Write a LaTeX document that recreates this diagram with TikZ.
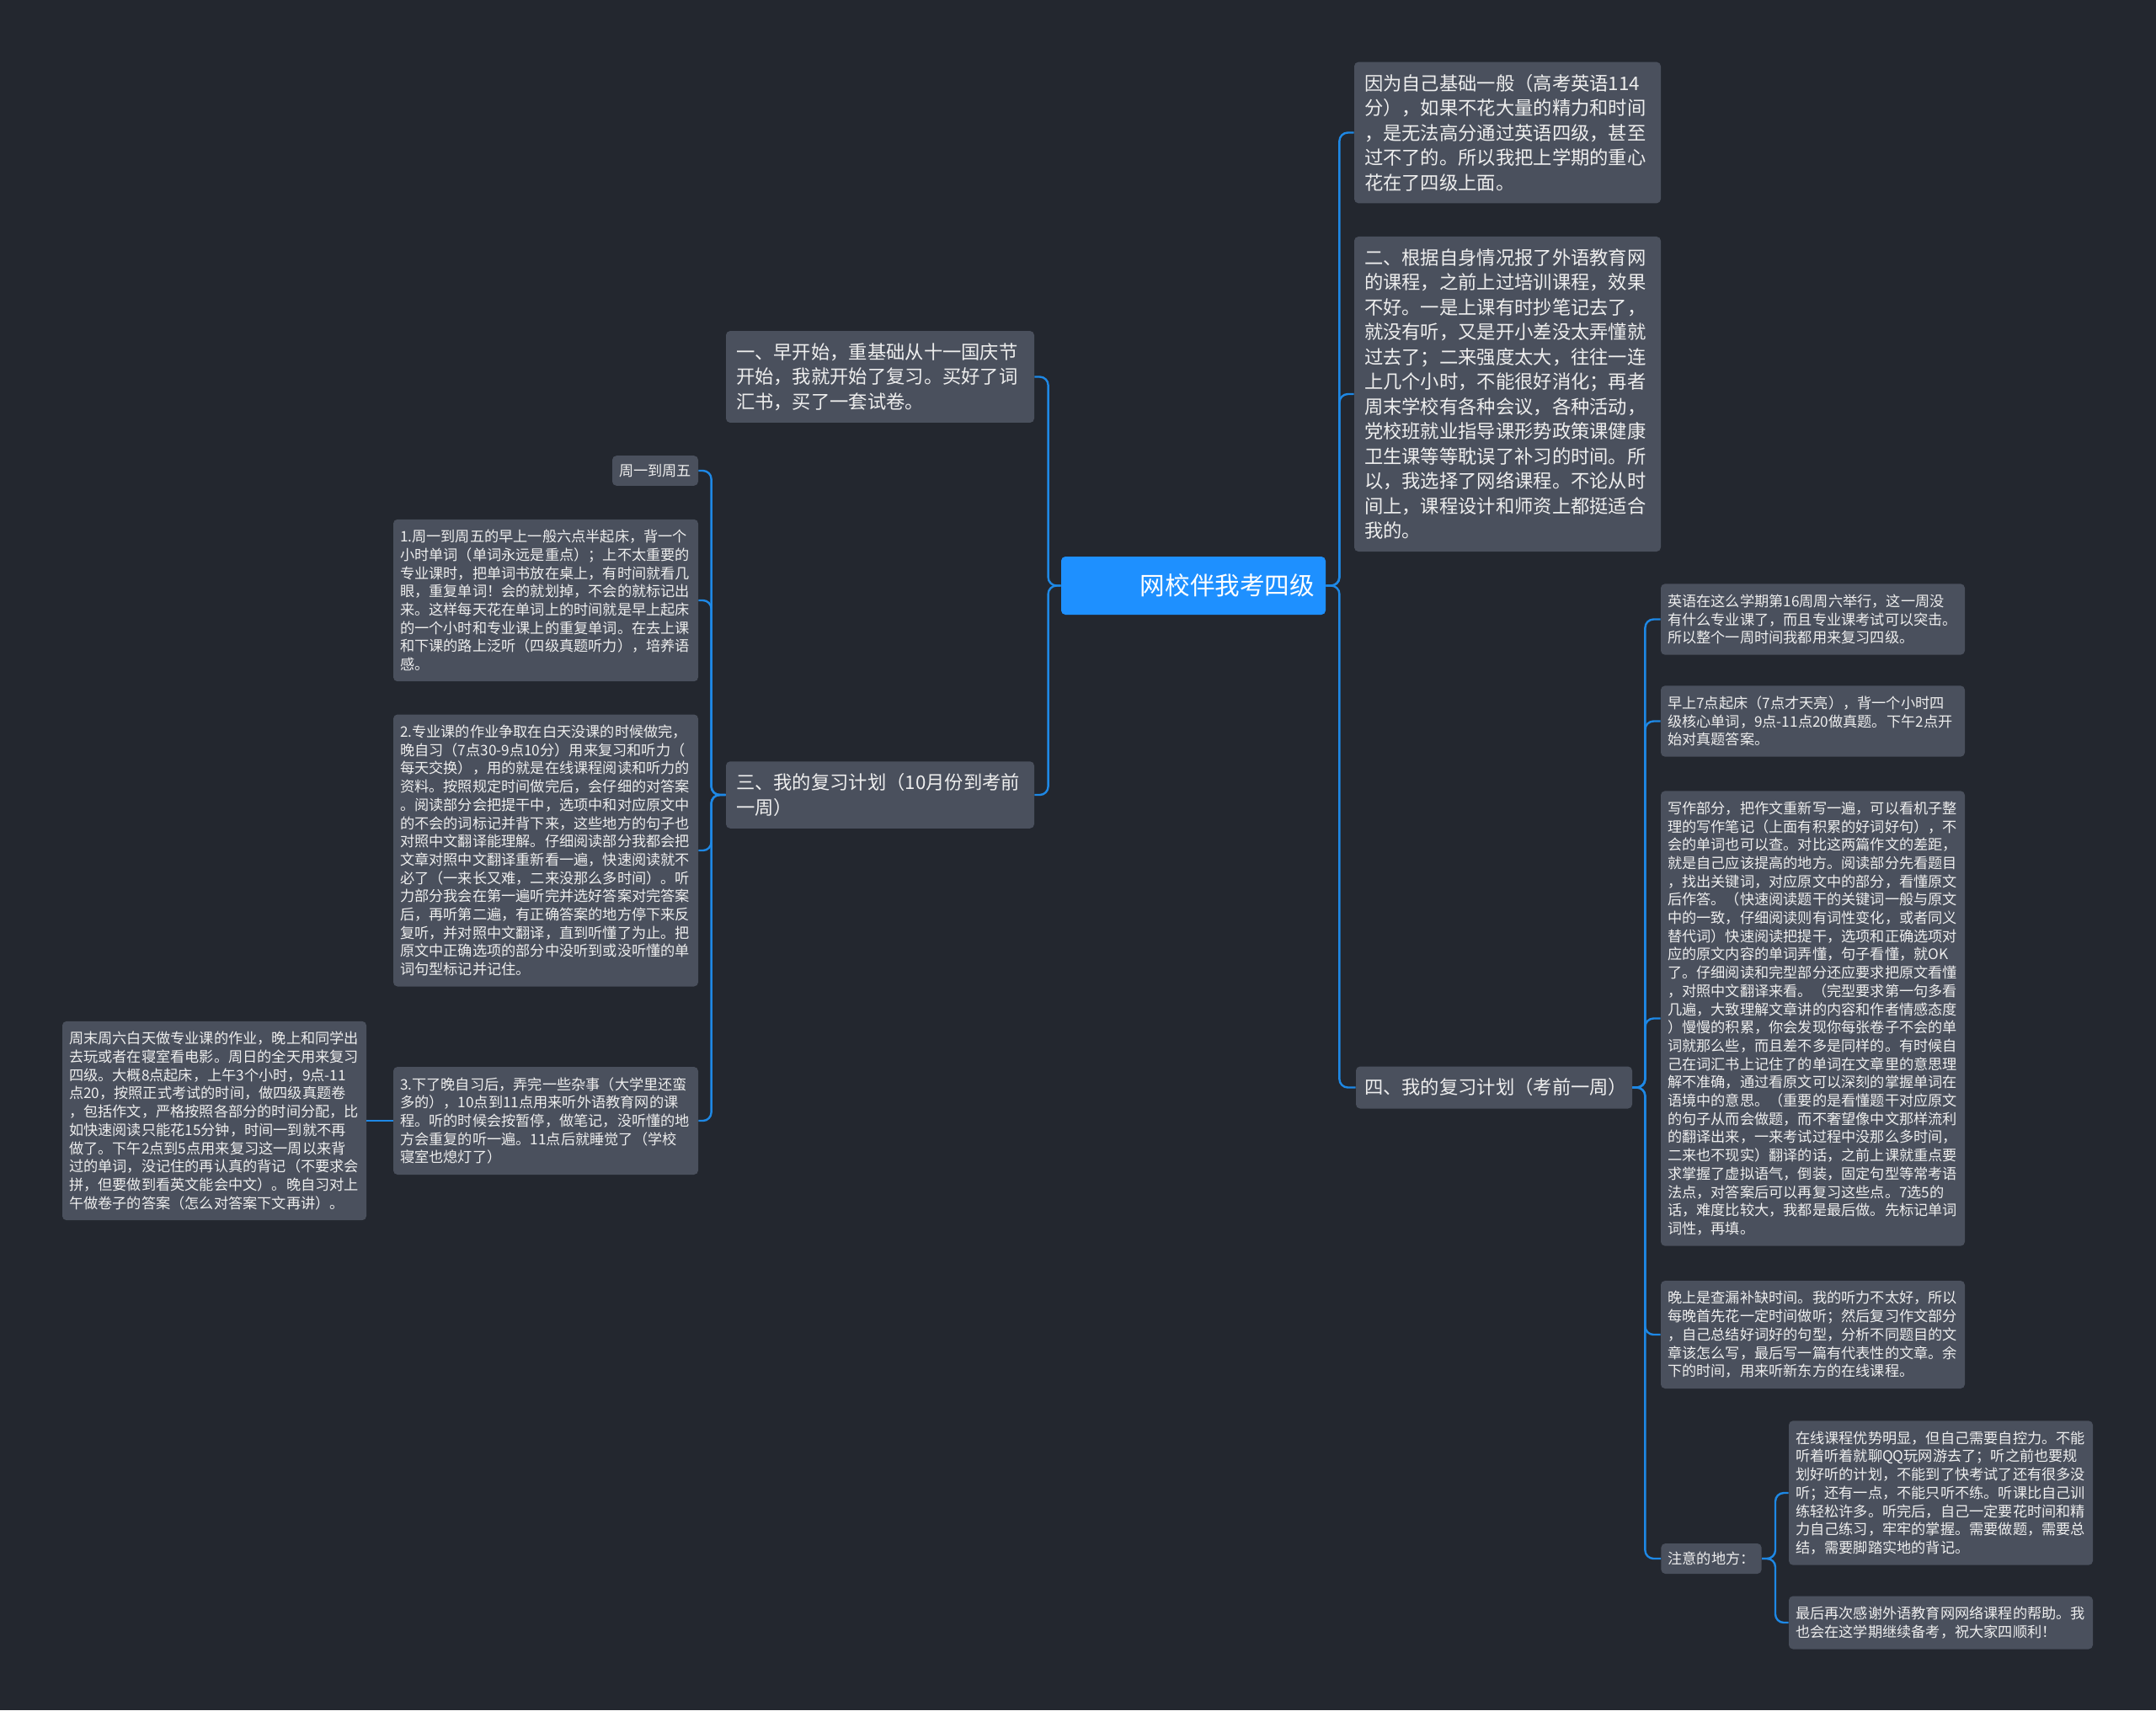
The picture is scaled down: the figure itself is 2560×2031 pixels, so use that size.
\documentclass[tikz,border=0pt]{standalone}
\usepackage{fontspec}
\setmainfont{Noto Sans CJK SC}
\usepackage{xcolor}
\usepackage{tikz}
\usetikzlibrary{calc}

\definecolor{bgcol}{HTML}{23272F}
\definecolor{boxcol}{HTML}{4A505D}
\definecolor{linecol}{HTML}{1E88E5}
\definecolor{rootcol}{HTML}{1E90FF}
\definecolor{txtcol}{HTML}{EEEEEE}

\begin{document}
\begin{tikzpicture}[x=0.5pt,y=-0.5pt,
  box/.style={fill=boxcol,rounded corners=2.5pt,text=txtcol,align=left},
  mainbox/.style={box,font=\fontsize{11.15}{14.75}\selectfont,inner xsep=6pt,inner ysep=7.2pt,text width=#1},
  leafbox/.style={box,font=\fontsize{8.6}{10.85}\selectfont,inner xsep=4pt,inner ysep=6.2pt,text width=#1},
  tagbox/.style={box,font=\fontsize{8.6}{10.85}\selectfont,inner xsep=4pt,inner ysep=5pt},
  rootbox/.style={fill=rootcol,rounded corners=2.5pt,text=white,font=\fontsize{14.8}{17}\selectfont,
    minimum height=34.5pt,inner xsep=6.5pt,text width=144pt,align=right},
  link/.style={draw=linecol,line width=1.2pt,rounded corners=5pt}]

\useasboundingbox (0,0) rectangle (2560,2031);
\fill[bgcol] (0,0) rectangle (2560,2031);

% 中心
\node[rootbox] (root) at (1417,695.5) {网校伴我考四级};

% 右側
\node[mainbox=170pt] (basis) at (1790,157.5) {因为自己基础一般（高考英语114\\
分），如果不花大量的精力和时间\\
，是无法高分通过英语四级，甚至\\
过不了的。所以我把上学期的重心\\
花在了四级上面。};
\node[mainbox=170pt] (course) at (1790,468) {二、根据自身情况报了外语教育网\\
的课程，之前上过培训课程，效果\\
不好。一是上课有时抄笔记去了，\\
就没有听，又是开小差没太弄懂就\\
过去了；二来强度太大，往往一连\\
上几个小时，不能很好消化；再者\\
周末学校有各种会议，各种活动，\\
党校班就业指导课形势政策课健康\\
卫生课等等耽误了补习的时间。所\\
以，我选择了网络课程。不论从时\\
间上，课程设计和师资上都挺适合\\
我的。};
\node[mainbox=154pt,inner xsep=5pt] (lastweek) at (1774,1291.5) {四、我的复习计划（考前一周）};

\node[leafbox=172.5pt] (week) at (2152.5,735.5) {英语在这么学期第16周周六举行，这一周没\\
有什么专业课了，而且专业课考试可以突击。\\
所以整个一周时间我都用来复习四级。};
\node[leafbox=172.5pt] (getup) at (2152.5,856.5) {早上7点起床（7点才天亮），背一个小时四\\
级核心单词，9点-11点20做真题。下午2点开\\
始对真题答案。};
\node[leafbox=172.5pt] (writing) at (2152.5,1209.5) {写作部分，把作文重新写一遍，可以看机子整\\
理的写作笔记（上面有积累的好词好句），不\\
会的单词也可以查。对比这两篇作文的差距，\\
就是自己应该提高的地方。阅读部分先看题目\\
，找出关键词，对应原文中的部分，看懂原文\\
后作答。（快速阅读题干的关键词一般与原文\\
中的一致，仔细阅读则有词性变化，或者同义\\
替代词）快速阅读把提干，选项和正确选项对\\
应的原文内容的单词弄懂，句子看懂，就OK\\
了。仔细阅读和完型部分还应要求把原文看懂\\
，对照中文翻译来看。（完型要求第一句多看\\
几遍，大致理解文章讲的内容和作者情感态度\\
）慢慢的积累，你会发现你每张卷子不会的单\\
词就那么些，而且差不多是同样的。有时候自\\
己在词汇书上记住了的单词在文章里的意思理\\
解不准确，通过看原文可以深刻的掌握单词在\\
语境中的意思。（重要的是看懂题干对应原文\\
的句子从而会做题，而不奢望像中文那样流利\\
的翻译出来，一来考试过程中没那么多时间，\\
二来也不现实）翻译的话，之前上课就重点要\\
求掌握了虚拟语气，倒装，固定句型等常考语\\
法点，对答案后可以再复习这些点。7选5的\\
话，难度比较大，我都是最后做。先标记单词\\
词性，再填。};
\node[leafbox=172.5pt] (evening) at (2152.5,1585) {晚上是查漏补缺时间。我的听力不太好，所以\\
每晚首先花一定时间做听；然后复习作文部分\\
，自己总结好词好的句型，分析不同题目的文\\
章该怎么写，最后写一篇有代表性的文章。余\\
下的时间，用来听新东方的在线课程。};
\node[tagbox] (notes) at (2032,1851) {注意的地方：};
\node[leafbox=172.5pt] (selfctl) at (2304.5,1773) {在线课程优势明显，但自己需要自控力。不能\\
听着听着就聊QQ玩网游去了；听之前也要规\\
划好听的计划，不能到了快考试了还有很多没\\
听；还有一点，不能只听不练。听课比自己训\\
练轻松许多。听完后，自己一定要花时间和精\\
力自己练习，牢牢的掌握。需要做题，需要总\\
结，需要脚踏实地的背记。};
\node[leafbox=172.5pt] (thanks) at (2304.5,1927) {最后再次感谢外语教育网网络课程的帮助。我\\
也会在这学期继续备考，祝大家四顺利！};

% 左側
\node[mainbox=171pt] (early) at (1045,447.5) {一、早开始，重基础从十一国庆节\\
开始，我就开始了复习。买好了词\\
汇书，买了一套试卷。};
\node[mainbox=171pt] (plan) at (1045,944) {三、我的复习计划（10月份到考前\\
一周）};

\node[tagbox] (weekday) at (778,559) {周一到周五};
\node[leafbox=173pt] (morning) at (648,713) {1.周一到周五的早上一般六点半起床，背一个\\
小时单词（单词永远是重点）；上不太重要的\\
专业课时，把单词书放在桌上，有时间就看几\\
眼，重复单词！会的就划掉，不会的就标记出\\
来。这样每天花在单词上的时间就是早上起床\\
的一个小时和专业课上的重复单词。在去上课\\
和下课的路上泛听（四级真题听力），培养语\\
感。};
\node[leafbox=173pt] (homework) at (648,1010) {2.专业课的作业争取在白天没课的时候做完，\\
晚自习（7点30-9点10分）用来复习和听力（\\
每天交换），用的就是在线课程阅读和听力的\\
资料。按照规定时间做完后，会仔细的对答案\\
。阅读部分会把提干中，选项中和对应原文中\\
的不会的词标记并背下来，这些地方的句子也\\
对照中文翻译能理解。仔细阅读部分我都会把\\
文章对照中文翻译重新看一遍，快速阅读就不\\
必了（一来长又难，二来没那么多时间）。听\\
力部分我会在第一遍听完并选好答案对完答案\\
后，再听第二遍，有正确答案的地方停下来反\\
复听，并对照中文翻译，直到听懂了为止。把\\
原文中正确选项的部分中没听到或没听懂的单\\
词句型标记并记住。};
\node[leafbox=173pt] (night) at (648,1331) {3.下了晚自习后，弄完一些杂事（大学里还蛮\\
多的），10点到11点用来听外语教育网的课\\
程。听的时候会按暂停，做笔记，没听懂的地\\
方会重复的听一遍。11点后就睡觉了（学校\\
寝室也熄灯了）};
\node[leafbox=172.5pt] (weekend) at (254.5,1331) {周末周六白天做专业课的作业，晚上和同学出\\
去玩或者在寝室看电影。周日的全天用来复习\\
四级。大概8点起床，上午3个小时，9点-11\\
点20，按照正式考试的时间，做四级真题卷\\
，包括作文，严格按照各部分的时间分配，比\\
如快速阅读只能花15分钟，时间一到就不再\\
做了。下午2点到5点用来复习这一周以来背\\
过的单词，没记住的再认真的背记（不要求会\\
拼，但要做到看英文能会中文）。晚自习对上\\
午做卷子的答案（怎么对答案下文再讲）。};

% 接続線
\foreach \n in {basis,course,lastweek}
  \draw[link] (root.east) -- ++(16,0) |- (\n.west);
\foreach \n in {early,plan}
  \draw[link] (root.west) -- ++(-15,0) |- (\n.east);
\foreach \n in {weekday,morning,homework,night}
  \draw[link] (plan.west) -- ++(-17,0) |- (\n.east);
\draw[link] (night.west) -- (weekend.east);
\foreach \n in {week,getup,writing,evening,notes}
  \draw[link] (lastweek.east) -- ++(15,0) |- (\n.west);
\foreach \n in {selfctl,thanks}
  \draw[link] (notes.east) -- ++(16,0) |- (\n.west);

\end{tikzpicture}
\end{document}
